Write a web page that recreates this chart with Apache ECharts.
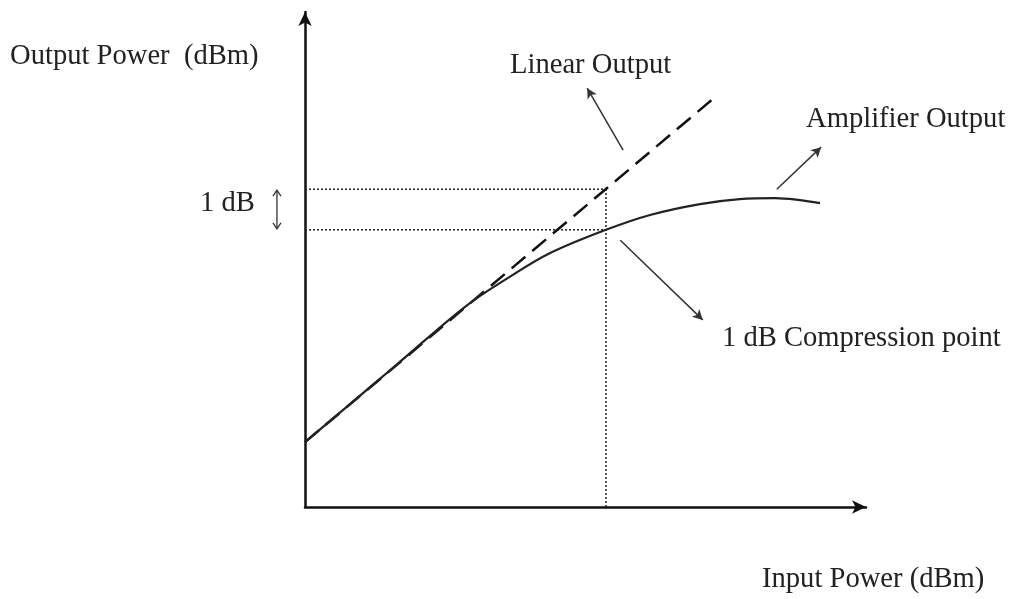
<!DOCTYPE html>
<html>
<head>
<meta charset="utf-8">
<script src="https://cdn.jsdelivr.net/npm/echarts@6/dist/echarts.min.js"></script>
<style>
html,body{margin:0;padding:0;background:#fff;}
#chart{width:1017px;height:599px;}
</style>
</head>
<body>
<div id="chart"></div>
<script>
// Data (arbitrary units, axis 0..100)
const linearOutput = [[0, 13.1], [73.1, 82.8]];
const amplifierOutput = [
  [0, 13.1], [16.9, 29.3], [28.7, 40.6], [36.5, 46.5], [43.7, 51.3],
  [53.65, 56.0], [61.5, 59.0], [70.4, 61.2], [77.5, 62.2],
  [83.8, 62.4], [88.2, 62.0], [91.8, 61.4]
];
const compressionX = 53.65;
const linearAtP1 = 64.2;
const ampAtP1 = 56.0;
// annotation arrows [from, to]
const arrowLinear = [[56.7, 72.1], [50.3, 84.6]];
const arrowAmp = [[84.1, 64.2], [92.0, 72.7]];
const arrowComp = [[56.2, 53.9], [70.9, 37.8]];
const oneDbArrowX = -5.0;
const labels = {
  yName: 'Output Power  (dBm)',
  xName: 'Input Power (dBm)',
  linear: 'Linear Output',
  amp: 'Amplifier Output',
  oneDb: '1 dB',
  comp: '1 dB Compression point'
};

const chart = echarts.init(document.getElementById('chart'), null, {renderer: 'canvas'});
const FONT = '"Liberation Serif", "Times New Roman", serif';
const FS = 28.6;
const dotted = {color: '#222', width: 1.5, type: [2, 2]};
function arrowLine(a) {
  return {
    silent: true, symbol: ['none', 'arrow'], symbolSize: [8, 10],
    lineStyle: {color: '#333', width: 1.5, type: 'solid'},
    label: {show: false},
    data: [[{coord: a[0]}, {coord: a[1]}]]
  };
}
const option = {
  animation: false,
  backgroundColor: '#fff',
  grid: {left: 305, right: 151, top: 12, bottom: 92},
  xAxis: {
    type: 'value', min: 0, max: 100,
    axisLine: {show: true, lineStyle: {color: '#111', width: 2.5}, symbol: ['none', 'arrow'], symbolSize: [10, 14]},
    axisTick: {show: false}, axisLabel: {show: false}, splitLine: {show: false}
  },
  yAxis: {
    type: 'value', min: 0, max: 100,
    axisLine: {show: true, lineStyle: {color: '#111', width: 2.5}, symbol: ['none', 'arrow'], symbolSize: [10, 14]},
    axisTick: {show: false}, axisLabel: {show: false}, splitLine: {show: false}
  },
  series: [
    {type: 'line', data: [[0, linearAtP1], [compressionX, linearAtP1]], symbol: 'none', lineStyle: dotted, z: 1},
    {type: 'line', data: [[0, ampAtP1], [compressionX, ampAtP1]], symbol: 'none', lineStyle: dotted, z: 1},
    {type: 'line', data: [[compressionX, 0], [compressionX, linearAtP1]], symbol: 'none', lineStyle: dotted, z: 1},
    {type: 'line', data: linearOutput, symbol: 'none', lineStyle: {color: '#111', width: 2.5, type: [18, 9]}, z: 3,
      markLine: arrowLine(arrowLinear)},
    {type: 'line', data: amplifierOutput, symbol: 'none', smooth: 0.35, lineStyle: {color: '#222', width: 2.2}, z: 4,
      markLine: arrowLine(arrowAmp)},
    {type: 'line', data: [], symbol: 'none', markLine: arrowLine(arrowComp)}
  ]
};
chart.setOption(option);

const pTop = chart.convertToPixel({gridIndex: 0}, [oneDbArrowX, linearAtP1]);
const pBot = chart.convertToPixel({gridIndex: 0}, [oneDbArrowX, ampAtP1]);
const ax = pTop[0];
const t = pTop[1] + 1, b = pBot[1] - 1;
// x = left edge, y = baseline
function txt(text, x, baseline) {
  return {type: 'text', left: x, top: baseline - 23, style: {text: text, font: FS + 'px ' + FONT, fill: '#222'}};
}
chart.setOption({
  graphic: [
    txt(labels.yName, 10, 65),
    txt(labels.linear, 510, 74),
    txt(labels.amp, 806, 128),
    txt(labels.oneDb, 200, 212),
    txt(labels.comp, 722, 347),
    txt(labels.xName, 762, 588),
    {type: 'line', shape: {x1: ax, y1: t, x2: ax, y2: b}, style: {stroke: '#333', lineWidth: 1.3}},
    {type: 'polyline', shape: {points: [[ax - 4, t + 6], [ax, t], [ax + 4, t + 6]]}, style: {stroke: '#333', lineWidth: 1.3, fill: null}},
    {type: 'polyline', shape: {points: [[ax - 4, b - 6], [ax, b], [ax + 4, b - 6]]}, style: {stroke: '#333', lineWidth: 1.3, fill: null}}
  ]
});
</script>
</body>
</html>
